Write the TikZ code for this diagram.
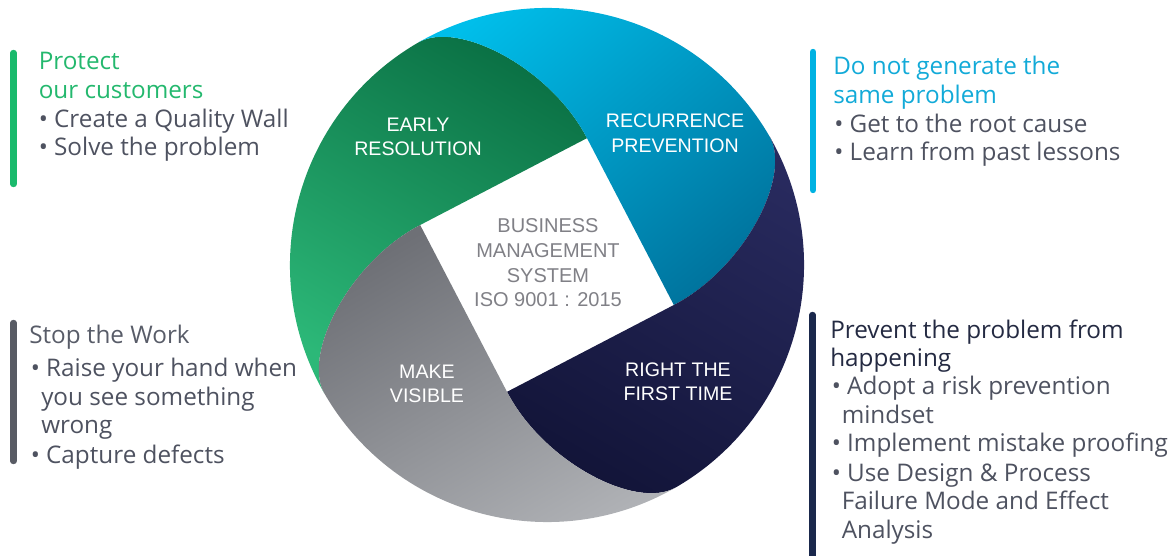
\documentclass[tikz,border=0pt]{standalone}
\usepackage{fontspec}
\setmainfont{Open Sans}
\newfontfamily\labelfont{Liberation Sans}
\usetikzlibrary{calc}

% ring colours
\definecolor{greenDark}{RGB}{10,112,68}
\definecolor{greenLight}{RGB}{44,184,120}
\definecolor{cyanLight}{RGB}{0,190,234}
\definecolor{cyanDark}{RGB}{0,116,158}
\definecolor{navyLight}{RGB}{40,42,94}
\definecolor{navyDark}{RGB}{18,20,56}
\definecolor{grayDark}{RGB}{110,112,118}
\definecolor{grayLight}{RGB}{176,178,182}
% text and bar colours
\definecolor{greenTitle}{RGB}{36,184,110}
\definecolor{cyanTitle}{RGB}{18,170,216}
\definecolor{grayTitle}{RGB}{88,92,104}
\definecolor{navyTitle}{RGB}{36,42,66}
\definecolor{bodyText}{RGB}{78,82,96}
\definecolor{hubText}{RGB}{128,128,134}
\definecolor{greenBar}{RGB}{26,186,108}
\definecolor{cyanBar}{RGB}{0,178,226}
\definecolor{grayBar}{RGB}{88,91,100}
\definecolor{navyBar}{RGB}{26,40,76}

\begin{document}
\begin{tikzpicture}[x=0.75pt,y=0.75pt,
  bar/.style={line width=4.8pt,line cap=round},
  side/.style={anchor=base west,inner sep=0pt,font=\fontsize{18.2}{21}\selectfont},
  body/.style={side,text=bodyText},
  seg/.style={anchor=base,inner sep=0pt,text=white,font=\labelfont\fontsize{14.7}{18}\selectfont},
  hub/.style={anchor=base,inner sep=0pt,text=hubText,font=\labelfont\fontsize{15}{18}\selectfont}]
\useasboundingbox (0,0) rectangle (1171,556);
\coordinate (C) at (547,291);

%Shape: green piece
\shade[top color=greenDark,bottom color=greenLight,shading angle=-30] ($(C)+(162.5:133)$) -- ($(C)+(72.5:133)$) .. controls ($(C)+(72.5:133)+(117.5:80)$) and ($(C)+(120:257)+(30:45)$) .. ($(C)+(120:257)$) arc[start angle=120,end angle=210,radius=257] .. controls ($(C)+(210:257)+(120:45)$) and ($(C)+(162.5:133)+(207.5:80)$) .. ($(C)+(162.5:133)$) -- cycle ;
%Shape: blue piece
\shade[top color=cyanLight,bottom color=cyanDark,shading angle=40] ($(C)+(72.5:133)$) -- ($(C)+(-17.5:133)$) .. controls ($(C)+(-17.5:133)+(27.5:80)$) and ($(C)+(30:257)+(-60:45)$) .. ($(C)+(30:257)$) arc[start angle=30,end angle=120,radius=257] .. controls ($(C)+(120:257)+(30:45)$) and ($(C)+(72.5:133)+(117.5:80)$) .. ($(C)+(72.5:133)$) -- cycle ;
%Shape: navy piece
\shade[top color=navyLight,bottom color=navyDark,shading angle=-30] ($(C)+(-17.5:133)$) -- ($(C)+(-107.5:133)$) .. controls ($(C)+(-107.5:133)+(-62.5:80)$) and ($(C)+(-60:257)+(-150:45)$) .. ($(C)+(-60:257)$) arc[start angle=-60,end angle=30,radius=257] .. controls ($(C)+(30:257)+(-60:45)$) and ($(C)+(-17.5:133)+(27.5:80)$) .. ($(C)+(-17.5:133)$) -- cycle ;
%Shape: gray piece
\shade[top color=grayDark,bottom color=grayLight,shading angle=30] ($(C)+(252.5:133)$) -- ($(C)+(162.5:133)$) .. controls ($(C)+(162.5:133)+(207.5:80)$) and ($(C)+(210:257)+(120:45)$) .. ($(C)+(210:257)$) arc[start angle=210,end angle=300,radius=257] .. controls ($(C)+(300:257)+(210:45)$) and ($(C)+(252.5:133)+(297.5:80)$) .. ($(C)+(252.5:133)$) -- cycle ;

% Piece labels
\node (early) [seg] at (418,424) {EARLY};
\node (resolution) [seg] at (418,400) {RESOLUTION};
\node (recurrence) [seg] at (675,428) {RECURRENCE};
\node (prevention) [seg] at (675,403) {PREVENTION};
\node (rightthe) [seg] at (678,179) {RIGHT THE};
\node (firsttime) [seg] at (678,155) {FIRST TIME};
\node (make) [seg] at (427,177) {MAKE};
\node (visible) [seg] at (427,153) {VISIBLE};

% Hub text
\node (business) [hub] at (548,323) {BUSINESS};
\node (management) [hub] at (548,298.3) {MANAGEMENT};
\node (system) [hub] at (548,273.7) {SYSTEM};
\node (iso) [hub] at (548,249) {ISO 9001 : 2015};

% Side bars
\draw [bar,greenBar] (13.5,503) -- (13.5,372) ;
\draw [bar,cyanBar] (813,504) -- (813,366) ;
\draw [bar,grayBar] (13.5,233) -- (13.5,95) ;
\draw [bar,navyBar] (812.5,241) -- (812.5,-8) ;

% Text Node: top left
\node (protect) [side,text=greenTitle] at (38.5,486.7) {Protect};
\node (customers) [side,text=greenTitle] at (38.5,457.7) {our customers};
\node (wall) [body] at (38.5,428.7) {• Create a Quality Wall};
\node (solve) [body] at (38.5,400) {• Solve the problem};
% Text Node: top right
\node (generate) [side,text=cyanTitle] at (833,481) {Do not generate the};
\node (same) [side,text=cyanTitle] at (833,452.7) {same problem};
\node (root) [body] at (834,423.7) {• Get to the root cause};
\node (learn) [body] at (834,395.3) {• Learn from past lessons};
% Text Node: bottom left
\node (stop) [side,text=grayTitle] at (29,212.7) {Stop the Work};
\node (raise) [body] at (30.5,179.3) {• Raise your hand when};
\node (see) [body] at (41,150) {you see something};
\node (wrong) [body] at (41,122) {wrong};
\node (capture) [body] at (30.5,92) {• Capture defects};
% Text Node: bottom right
\node (preventa) [side,text=navyTitle] at (830,217.7) {Prevent the problem from};
\node (preventb) [side,text=navyTitle] at (830,189.3) {happening};
\node (adopt) [body] at (831.5,161) {• Adopt a risk prevention};
\node (mindset) [body] at (841.5,132.7) {mindset};
\node (proofing) [body] at (831.5,104.3) {• Implement mistake proofing};
\node (design) [body] at (831.5,74.3) {• Use Design \& Process};
\node (failure) [body] at (841.5,46) {Failure Mode and Effect};
\node (analysis) [body] at (841.5,17.7) {Analysis};

\end{tikzpicture}
\end{document}
